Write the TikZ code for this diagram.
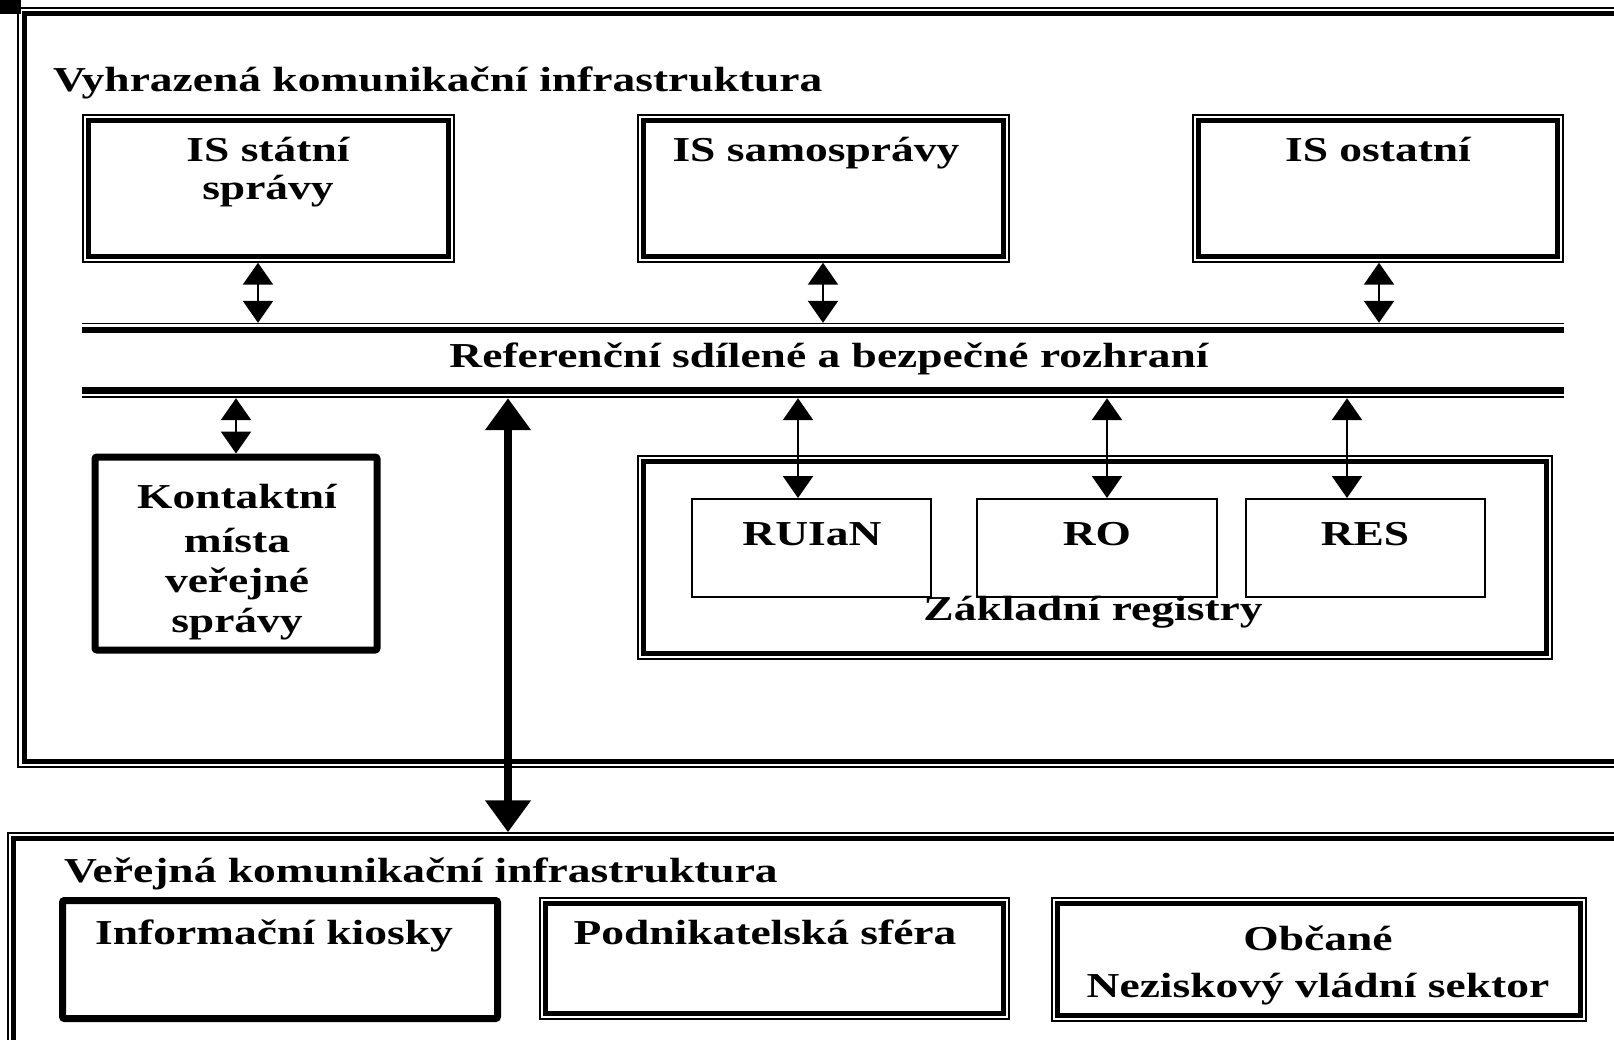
\documentclass[tikz,border=0pt]{standalone}
\usepackage{fontspec}
\setmainfont{Liberation Serif}[FakeStretch=1.3]
\usetikzlibrary{arrows.meta,fit}
\begin{document}
\begin{tikzpicture}[x=1pt,y=-1pt,
  txt/.style={font=\fontsize{35}{42}\selectfont\bfseries, inner sep=0pt, outer sep=0pt, anchor=base},
  dbox/.style={draw, line width=1.5pt, inner sep=0pt,
    path picture={\draw[line width=5pt]
      ([shift={(#1pt,#1pt)}]path picture bounding box.south west) rectangle
      ([shift={(-#1pt,-#1pt)}]path picture bounding box.north east);}},
  dbox/.default=5.5,
  tbox/.style={draw, line width=7pt, rounded corners=2pt, inner sep=0pt},
  rbox/.style={draw, line width=2pt, inner sep=0pt},
  bi/.style={{Triangle[width=30pt,length=22pt]}-{Triangle[width=30pt,length=22pt]}, line width=2.5pt},
  bigarr/.style={{Triangle[width=44pt,length=32pt]}-{Triangle[width=44pt,length=32pt]}, line width=8.5pt},
]
\useasboundingbox (0,0) rectangle (1614,1040);
\clip (0,0) rectangle (1614,1040);

% top-left mark
\fill (0,0) rectangle (21,14);

% reserved infrastructure frame
\node[dbox=6, fit={(18,8)(1700,767)}] (vki) {};
\node[txt, anchor=base west] (vkiT) at (53,92) {Vyhrazená komunikační infrastruktura};

% IS boxes
\node[dbox, fit={(83,115)(454,262)}] (iss) {};
\node[txt] (issT1) at (268,162) {IS státní};
\node[txt] (issT2) at (268,200) {správy};
\node[dbox, fit={(638,115)(1009,262)}] (isam) {};
\node[txt] (isamT) at (816,162) {IS samosprávy};
\node[dbox, fit={(1193,115)(1563,262)}] (iost) {};
\node[txt] (iostT) at (1378,162) {IS ostatní};

% interface bus
\node[inner sep=0pt, fit={(82,323)(1564,398)}] (bus) {};
\draw[line width=1.5pt] (82,323.5) -- (1564,323.5);
\draw[line width=6.5pt] (82,330) -- (1564,330);
\draw[line width=6.5pt] (82,390.5) -- (1564,390.5);
\draw[line width=1.5pt] (82,397) -- (1564,397);
\node[txt] (busT) at (829,367) {Referenční sdílené a bezpečné rozhraní};

\coordinate (x1) at (258,0);
\coordinate (x2) at (823,0);
\coordinate (x3) at (1379,0);
\draw[bi] (iss.south -| x1) -- (bus.north -| x1);
\draw[bi] (isam.south -| x2) -- (bus.north -| x2);
\draw[bi] (iost.south -| x3) -- (bus.north -| x3);

% contact points
\node[tbox, fit={(95,457)(377,650)}] (kmv) {};
\node[txt] (kmvT1) at (237,508) {Kontaktní};
\node[txt] (kmvT2) at (237,552) {místa};
\node[txt] (kmvT3) at (237,592) {veřejné};
\node[txt] (kmvT4) at (237,632) {správy};
\coordinate (xk) at (236,0);
\draw[bi] (bus.south -| xk) -- (kmv.north -| xk);

% base registers
\node[dbox, fit={(638,456)(1552,659)}] (zr) {};
\node[rbox, fit={(692,499)(931,597)}] (ruian) {};
\node[rbox, fit={(977,499)(1217,597)}] (ro) {};
\node[rbox, fit={(1246,499)(1485,597)}] (res) {};
\node[txt] (ruianT) at (812,545) {RUIaN};
\node[txt] (roT) at (1097,545) {RO};
\node[txt] (resT) at (1365,545) {RES};
\node[txt] (zrT) at (1093,620) {Základní registry};
\coordinate (xr1) at (798,0);
\coordinate (xr2) at (1107,0);
\coordinate (xr3) at (1347,0);
\draw[bi] (bus.south -| xr1) -- (ruian.north -| xr1);
\draw[bi] (bus.south -| xr2) -- (ro.north -| xr2);
\draw[bi] (bus.south -| xr3) -- (res.north -| xr3);

% public infrastructure frame
\node[dbox, fit={(8,833)(1700,1100)}] (vpki) {};
\node[txt, anchor=base west] (vpkiT) at (64,882) {Veřejná komunikační infrastruktura};
\node[tbox, fit={(62.5,900.5)(497.5,1018.5)}] (ik) {};
\node[txt] (ikT) at (274,944) {Informační kiosky};
\node[dbox, fit={(540,898)(1009,1019)}] (ps) {};
\node[txt] (psT) at (765,944) {Podnikatelská sféra};
\node[dbox, fit={(1052,898)(1586,1021)}] (ob) {};
\node[txt] (obT1) at (1318,950) {Občané};
\node[txt] (obT2) at (1318,997) {Neziskový vládní sektor};

% main link
\coordinate (xb) at (508,0);
\draw[bigarr] (bus.south -| xb) -- (vpki.north -| xb);
\end{tikzpicture}
\end{document}
